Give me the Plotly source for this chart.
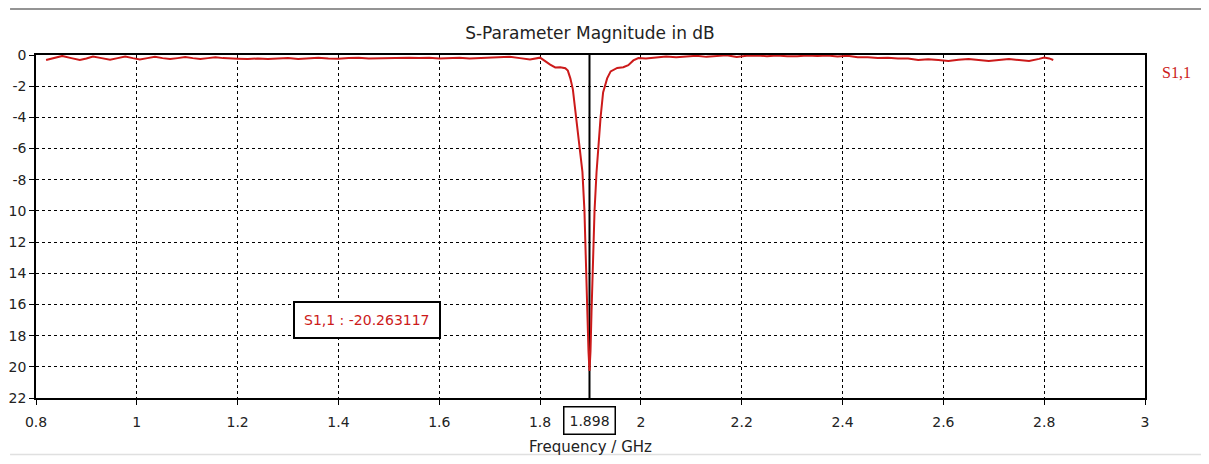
import plotly.graph_objects as go

freq_ghz = [
    0.820, 0.835, 0.852, 0.870, 0.887, 0.900, 0.913, 0.930, 0.947, 0.962,
    0.977, 0.992, 1.006, 1.021, 1.036, 1.051, 1.066, 1.081, 1.096, 1.111,
    1.126, 1.141, 1.156, 1.171, 1.186, 1.200, 1.220, 1.240, 1.260, 1.280,
    1.300, 1.320, 1.340, 1.360, 1.380, 1.400, 1.420, 1.440, 1.460, 1.480,
    1.500, 1.520, 1.540, 1.560, 1.580, 1.600, 1.620, 1.640, 1.660, 1.680,
    1.700, 1.720, 1.740, 1.760, 1.780, 1.800, 1.810, 1.820, 1.830, 1.840,
    1.850, 1.855, 1.860, 1.865, 1.870, 1.875, 1.880, 1.884, 1.888, 1.891,
    1.894, 1.896, 1.898, 1.900, 1.902, 1.905, 1.908, 1.912, 1.916, 1.920,
    1.925, 1.933, 1.940, 1.953, 1.965, 1.975, 1.985, 1.995, 2.010, 2.030,
    2.050, 2.070, 2.090, 2.110, 2.130, 2.150, 2.170, 2.190, 2.210, 2.230,
    2.250, 2.270, 2.290, 2.310, 2.330, 2.350, 2.370, 2.390, 2.410, 2.430,
    2.450, 2.470, 2.490, 2.510, 2.530, 2.550, 2.570, 2.590, 2.610, 2.630,
    2.650, 2.670, 2.690, 2.710, 2.730, 2.750, 2.770, 2.790, 2.800, 2.810,
    2.818,
]
s11_db = [
    -0.32, -0.22, -0.06, -0.20, -0.32, -0.22, -0.10, -0.20, -0.30, -0.20,
    -0.10, -0.20, -0.28, -0.20, -0.12, -0.20, -0.26, -0.20, -0.13, -0.20,
    -0.25, -0.20, -0.15, -0.20, -0.24, -0.24, -0.26, -0.22, -0.26, -0.23,
    -0.20, -0.25, -0.22, -0.18, -0.22, -0.24, -0.20, -0.17, -0.22, -0.20,
    -0.18, -0.20, -0.18, -0.20, -0.18, -0.22, -0.20, -0.18, -0.22, -0.20,
    -0.18, -0.14, -0.12, -0.20, -0.28, -0.17, -0.40, -0.62, -0.80, -0.78,
    -0.85, -1.00, -1.50, -2.20, -3.60, -5.10, -6.30, -7.50, -10.00, -14.00,
    -17.00, -19.00, -20.263117, -19.00, -16.50, -13.00, -10.00, -7.50, -5.50, -4.00,
    -2.40, -1.50, -1.05, -0.83, -0.78, -0.65, -0.35, -0.20, -0.22, -0.18,
    -0.10, -0.15, -0.12, -0.05, -0.12, -0.08, -0.02, -0.12, -0.05, -0.03,
    -0.08, -0.03, -0.08, -0.08, -0.03, -0.06, -0.03, -0.10, -0.05, -0.15,
    -0.15, -0.20, -0.18, -0.22, -0.22, -0.32, -0.28, -0.32, -0.38, -0.30,
    -0.25, -0.32, -0.38, -0.32, -0.26, -0.32, -0.38, -0.25, -0.16, -0.22,
    -0.32,
]

x_tick_vals = [0.8, 1.0, 1.2, 1.4, 1.6, 1.8, 2.0, 2.2, 2.4, 2.6, 2.8, 3.0]
x_tick_text = ["0.8", "1", "1.2", "1.4", "1.6", "1.8", "2", "2.2", "2.4", "2.6", "2.8", "3"]
y_tick_vals = [0, -2, -4, -6, -8, -10, -12, -14, -16, -18, -20, -22]
y_tick_text = ["0", "-2", "-4", "-6", "-8", "10", "12", "14", "16", "18", "20", "22"]

marker_freq = 1.898
marker_value = -20.263117
series_name = "S1,1"

FONT = "DejaVu Sans"
RED = "#cc1a1a"
TXT = "#222222"

W, H = 1193, 448
ML, MT, PW, PH = 28, 47, 1109, 343

fig = go.Figure()
fig.add_trace(go.Scatter(
    x=freq_ghz, y=s11_db, mode="lines", name=series_name,
    line=dict(color=RED, width=2), showlegend=False,
))

fig.add_shape(type="line", xref="x", yref="paper", x0=marker_freq, x1=marker_freq,
              y0=0, y1=1, line=dict(color="black", width=2), layer="below")
# window frame lines
fig.add_shape(type="line", xref="paper", yref="paper", x0=-0.0234, x1=1.06,
              y0=1.134, y1=1.134, line=dict(color="#707070", width=1.5))
fig.add_shape(type="line", xref="paper", yref="paper", x0=-0.0234, x1=1.06,
              y0=-0.165, y1=-0.165, line=dict(color="#e0e0e0", width=1.5))

fig.add_annotation(x=1.457, y=-17.0, xref="x", yref="y",
                   text=f"{series_name} : {marker_value:.6f}", showarrow=False,
                   font=dict(family=FONT, size=14, color=RED),
                   bordercolor="black", borderwidth=2, borderpad=9, bgcolor="white")
fig.add_annotation(x=marker_freq, y=-0.067, xref="x", yref="paper",
                   text=f"{marker_freq:.3f}", showarrow=False, yanchor="middle",
                   font=dict(family=FONT, size=14, color=TXT),
                   bordercolor="black", borderwidth=1.5, borderpad=5, bgcolor="white")
fig.add_annotation(x=1.0135, y=0.95, xref="paper", yref="paper", xanchor="left",
                   yanchor="middle", text=series_name, showarrow=False,
                   font=dict(family="Liberation Serif", size=16, color=RED))

fig.update_layout(
    width=W, height=H,
    margin=dict(l=ML, r=W - ML - PW, t=MT, b=H - MT - PH),
    paper_bgcolor="white", plot_bgcolor="white",
    title=dict(text="S-Parameter Magnitude in dB", x=(590 - 8) / W,
               xanchor="center", y=1 - 25 / H, yanchor="middle",
               font=dict(family=FONT, size=17, color=TXT)),
    font=dict(family=FONT, size=14, color=TXT),
)
fig.update_xaxes(
    range=[0.8, 3.0], tickvals=x_tick_vals, ticktext=x_tick_text,
    showline=True, linecolor="black", linewidth=1.5, mirror=True,
    ticks="outside", ticklen=5, tickcolor="black", ticklabelstandoff=5,
    showgrid=True, gridcolor="black", gridwidth=1, griddash="3px,3px",
    zeroline=False, automargin=False,
    title=dict(text="Frequency / GHz", font=dict(family=FONT, size=15, color=TXT), standoff=17),
)
fig.update_yaxes(
    range=[-22, 0], tickvals=y_tick_vals, ticktext=y_tick_text,
    showline=True, linecolor="black", linewidth=1.5, mirror=True,
    ticks="outside", ticklen=5, tickcolor="black",
    showgrid=True, gridcolor="black", gridwidth=1, griddash="3px,3px",
    zeroline=False, automargin=False,
)

fig.write_html("out.html")
